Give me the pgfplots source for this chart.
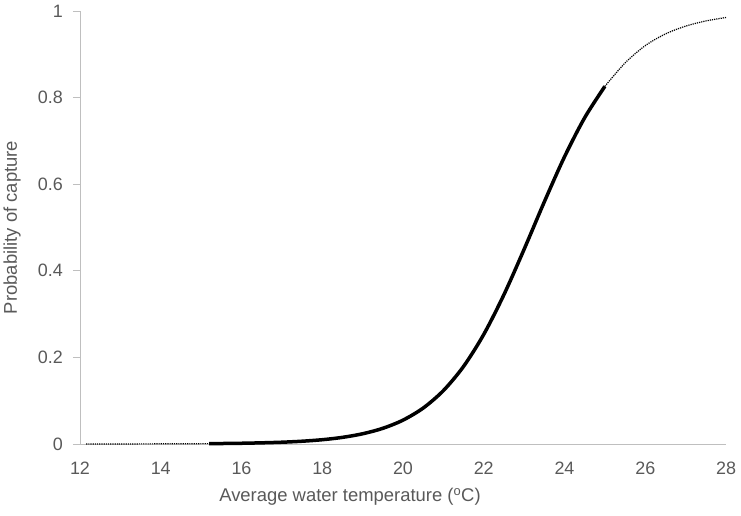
\documentclass[border=0pt]{standalone}
\usepackage{pgfplots}
\pgfplotsset{compat=1.18}
\usepackage{fontspec}
\setmainfont{Liberation Sans}
\definecolor{txt}{HTML}{595959}
\definecolor{axl}{HTML}{BFBFBF}

\begin{document}
\begin{tikzpicture}
    \begin{axis}[
            scale only axis,
            width=646bp, height=433bp,
            xmin=12, xmax=28,
            ymin=0, ymax=1,
            axis x line*=bottom,
            axis y line*=left,
            axis line style={axl, line width=0.8bp},
            xtick={12,14,...,28},
            ytick={0,0.2,...,1},
            yticklabels={0,0.2,0.4,0.6,0.8,1},
            tick align=outside,
            major tick length=7bp,
            x tick style={draw=none},
            y tick style={axl, line width=0.8bp},
            tick label style={font=\fontsize{18}{21}\selectfont, text=txt},
            label style={font=\fontsize{18.5}{21}\selectfont, text=txt},
            /pgf/number format/assume math mode=true,
            yticklabel style={inner sep=0pt, xshift=-10bp},
            xticklabel style={inner sep=0pt, yshift=-11bp},
            xlabel={Average water temperature (\textsuperscript{o}C)},
            ylabel={Probability of capture},
            xlabel style={at={(rel axis cs:0.5,0)}, anchor=center, yshift=-53bp, xshift=-53bp},
            ylabel style={at={(rel axis cs:0,0.5)}, anchor=center, yshift=68bp},
            clip=false,
        ]
        % dotted extension below observed range
        \addplot[black, densely dotted, line width=1.2bp] coordinates {
                (12.15,0.0001) (13,0.0001) (14,0.0004) (15.2,0.0009)
            };
        % fitted curve over observed temperatures
        \addplot[black, line width=3.5bp, smooth] coordinates {
                (15.2,0.0009) (15.5,0.0011) (16,0.0017) (16.5,0.0027)
                (17,0.0041) (17.5,0.0064) (18,0.0099) (18.5,0.0153)
                (19,0.0236) (19.5,0.0362) (20,0.0551) (20.5,0.0830)
                (21,0.1233) (21.5,0.1792) (22,0.2531) (22.5,0.3449)
                (23,0.4497) (23.5,0.5592) (24,0.6633) (24.5,0.7536)
                (25,0.8260)
            };
        % dotted extension above observed range
        \addplot[black, densely dotted, line width=1.2bp, smooth] coordinates {
                (25,0.8260) (25.5,0.8800) (26,0.9200) (26.5,0.9470)
                (27,0.9650) (27.5,0.9770) (28,0.9850)
            };
        \coordinate (sw) at (rel axis cs:0,0);
        \coordinate (ne) at (rel axis cs:1,1);
    \end{axis}
    \pgfresetboundingbox
    \path[use as bounding box] ([shift={(-80bp,-72bp)}]sw) rectangle ([shift={(15bp,11bp)}]ne);
\end{tikzpicture}
\end{document}
